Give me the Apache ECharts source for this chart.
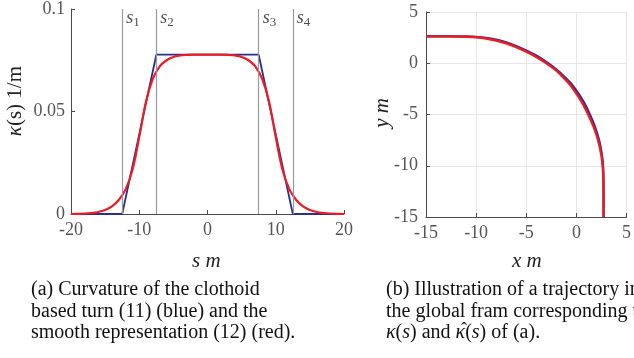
<!DOCTYPE html>
<html>
<head>
<meta charset="utf-8">
<script src="https://cdn.jsdelivr.net/npm/echarts@6/dist/echarts.min.js"></script>
<style>
  html, body { margin: 0; padding: 0; background: #fff; }
  #main { width: 634px; height: 358px; }
</style>
</head>
<body>
<div id="main"></div>
<script>
// curvature plot (a)
var sValues = [-20, -19, -18, -17, -16, -15, -14, -13, -12, -11, -10, -9, -8, -7, -6, -5, -4, -3, -2, -1,
  0, 1, 2, 3, 4, 5, 6, 7, 8, 9, 10, 11, 12, 13, 14, 15, 16, 17, 18, 19, 20];
var kappaSmooth = [0, 0.0001, 0.0002, 0.0005, 0.0010, 0.0020, 0.0037, 0.0068, 0.0120, 0.0215, 0.0375,
  0.0550, 0.0660, 0.0720, 0.0750, 0.0766, 0.0773, 0.0776, 0.0777, 0.0777,
  0.0777, 0.0777, 0.0777, 0.0776, 0.0773, 0.0766, 0.0750, 0.0720, 0.0660, 0.0550,
  0.0375, 0.0215, 0.0120, 0.0068, 0.0037, 0.0020, 0.0010, 0.0005, 0.0002, 0.0001, 0];
var sClothoid = [-20, -12.5, -7.5, 7.5, 12.5, 20];
var kappaClothoid = [0, 0, 0.0777, 0.0777, 0, 0];
var sMarks = [-12.5, -7.5, 7.5, 12.5];
var sMarkNames = ['1', '2', '3', '4'];

// trajectory plot (b)
var xSmooth = [-15, -13, -11, -10, -9, -8, -7, -6, -5, -4, -3, -2, -1.3,
  -0.63, 0.09, 0.71, 1.22, 1.67, 2.04, 2.31, 2.51, 2.63, 2.68, 2.71, 2.71];
var ySmooth = [2.62, 2.62, 2.59, 2.54, 2.42, 2.22, 1.95, 1.58, 1.13, 0.62, 0.0, -0.72, -1.39,
  -2.09, -3.09, -4.09, -5.09, -6.09, -7.09, -8.09, -9.09, -10.09, -11.09, -13.09, -15];
var xClothoid = [-15, -13, -11, -10, -9, -8, -7, -6, -5, -4, -3, -2, -1.22,
  -0.52, 0.21, 0.83, 1.33, 1.77, 2.12, 2.38, 2.56, 2.66, 2.70, 2.72, 2.72];
var yClothoid = [2.63, 2.63, 2.61, 2.57, 2.47, 2.29, 2.03, 1.68, 1.24, 0.74, 0.12, -0.61, -1.31,
  -2.0, -2.97, -3.97, -4.98, -5.99, -7.01, -8.02, -9.04, -10.06, -11.07, -13.08, -15];

var serif = '"Liberation Serif", serif';
var tickColor = '#555';
var axisColor = '#4a4a4a';

function pairs(xs, ys) {
  return xs.map(function (x, i) { return [x, ys[i]]; });
}

var chart = echarts.init(document.getElementById('main'), null, { renderer: 'canvas' });

var commonAxis = {
  axisLine: { show: true, onZero: false, lineStyle: { color: axisColor, width: 1 } },
  axisTick: { show: true, inside: true, length: 4, lineStyle: { color: axisColor } },
  axisLabel: { color: tickColor, fontFamily: serif, fontSize: 18 }
};

var option = {
  backgroundColor: '#fff',
  animation: false,
  textStyle: { fontFamily: serif },
  grid: [
    { left: 71, top: 8, width: 273, height: 206 },
    { left: 426, top: 12, width: 204, height: 205 }
  ],
  xAxis: [
    Object.assign({}, commonAxis, {
      gridIndex: 0, type: 'value', min: -20, max: 20, interval: 10,
      splitLine: { show: false },
      axisLabel: Object.assign({}, commonAxis.axisLabel, { margin: 7 })
    }),
    Object.assign({}, commonAxis, {
      gridIndex: 1, type: 'value', min: -15, max: 5, interval: 5,
      splitLine: { show: true, lineStyle: { color: '#e6e6e6' } },
      axisLabel: Object.assign({}, commonAxis.axisLabel, { margin: 7 })
    })
  ],
  yAxis: [
    Object.assign({}, commonAxis, {
      gridIndex: 0, type: 'value', min: 0, max: 0.1, interval: 0.05,
      splitLine: { show: false },
      axisLabel: Object.assign({}, commonAxis.axisLabel, { margin: 6 })
    }),
    Object.assign({}, commonAxis, {
      gridIndex: 1, type: 'value', min: -15, max: 5, interval: 5,
      splitLine: { show: true, lineStyle: { color: '#e6e6e6' } },
      axisLabel: Object.assign({}, commonAxis.axisLabel, { margin: 8 })
    })
  ],
  series: [
    {
      // clothoid curvature (blue) with the s1..s4 marker lines
      type: 'line', xAxisIndex: 0, yAxisIndex: 0,
      data: pairs(sClothoid, kappaClothoid),
      showSymbol: false,
      lineStyle: { color: '#2a2f8e', width: 1.8 },
      markLine: {
        silent: true, symbol: 'none', animation: false,
        label: { show: false },
        lineStyle: { color: '#9a9a9a', width: 1.2, type: 'solid' },
        data: sMarks.map(function (s) { return { xAxis: s }; })
      },
      z: 3
    },
    {
      // smooth curvature (red)
      type: 'line', xAxisIndex: 0, yAxisIndex: 0,
      data: pairs(sValues, kappaSmooth),
      showSymbol: false, smooth: 0.4,
      lineStyle: { color: '#ec1c24', width: 2.2 },
      z: 4
    },
    {
      // s_i labels
      type: 'scatter', xAxisIndex: 0, yAxisIndex: 0,
      symbolSize: 0, silent: true,
      data: sMarks.map(function (s, i) { return { value: [s, 0.0955], name: sMarkNames[i] }; }),
      label: {
        show: true, position: 'right', distance: 4,
        formatter: function (p) { return '{i|s}{sub|' + p.name + '}'; },
        rich: {
          i: { fontFamily: serif, fontStyle: 'italic', fontSize: 18, color: '#222' },
          sub: { fontFamily: serif, fontSize: 13, color: '#222', padding: [8, 0, 0, 0] }
        }
      }
    },
    {
      type: 'line', xAxisIndex: 1, yAxisIndex: 1,
      data: pairs(xClothoid, yClothoid),
      showSymbol: false, smooth: 0.3,
      lineStyle: { color: '#2a2f8e', width: 2.4 },
      z: 3
    },
    {
      type: 'line', xAxisIndex: 1, yAxisIndex: 1,
      data: pairs(xSmooth, ySmooth),
      showSymbol: false, smooth: 0.3,
      lineStyle: { color: '#ec1c24', width: 2.4 },
      z: 4
    }
  ],
  graphic: [
    {
      type: 'text', left: 5, top: 66, rotation: Math.PI / 2,
      style: {
        text: '{i|κ}{r|(s) 1/m}', x: 0, y: 0,
        rich: {
          i: { fontFamily: serif, fontStyle: 'italic', fontSize: 21, fill: '#222' },
          r: { fontFamily: serif, fontSize: 21, fill: '#222' }
        }
      }
    },
    {
      type: 'text', left: 372, top: 98, rotation: Math.PI / 2,
      style: { text: 'y m', font: 'italic 21px "Liberation Serif"', fill: '#222' }
    },
    {
      type: 'text', left: 192, top: 251,
      style: { text: 's m', font: 'italic 21px "Liberation Serif"', fill: '#222' }
    },
    {
      type: 'text', left: 512, top: 251,
      style: { text: 'x m', font: 'italic 21px "Liberation Serif"', fill: '#222' }
    },
    {
      type: 'text', left: 31, top: 279,
      style: {
        text: '(a) Curvature of the clothoid\nbased turn (11) (blue) and the\nsmooth representation (12) (red).',
        font: '20px "Liberation Serif"', fill: '#111', lineHeight: 21.5
      }
    },
    {
      type: 'text', left: 386, top: 279,
      style: {
        text: '(b) Illustration of a trajectory in\nthe global fram corresponding to\n{i|κ}({i|s}) and {i|κ}({i|s}) of (a).',
        font: '20px "Liberation Serif"', fill: '#111', lineHeight: 21.5,
        rich: { i: { fontFamily: serif, fontStyle: 'italic', fontSize: 20, fill: '#111', lineHeight: 21.5 } }
      }
    },
    {
      // hat over the second kappa
      type: 'text', left: 461, top: 321,
      style: { text: 'ˆ', font: '18px "Liberation Serif"', fill: '#111' }
    }
  ]
};

chart.setOption(option);
</script>
</body>
</html>
